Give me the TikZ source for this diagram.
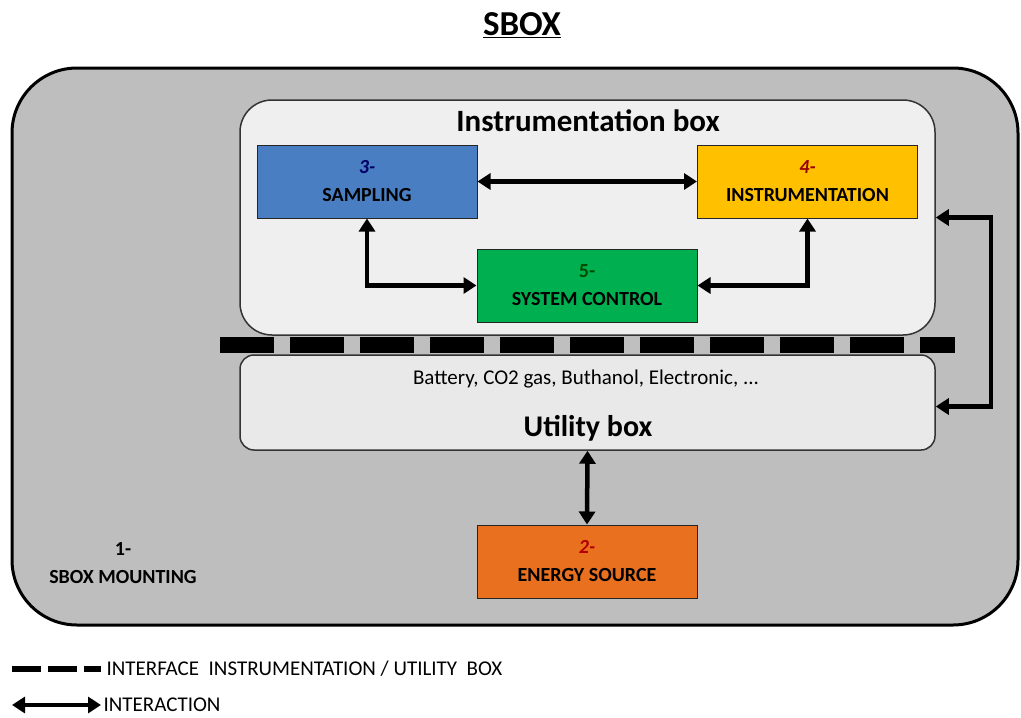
\documentclass[tikz,border=0pt]{standalone}
\usepackage{fontspec}
\setmainfont{Carlito}
\usetikzlibrary{positioning, arrows.meta}

\definecolor{mountgray}{HTML}{BEBEBE}
\definecolor{panelgray}{HTML}{EFEFEF}
\definecolor{utilgray}{HTML}{E9E9E9}
\definecolor{sampblue}{HTML}{4A7EC2}
\definecolor{instyellow}{HTML}{FFC000}
\definecolor{ctrlgreen}{HTML}{00B050}
\definecolor{energyorange}{HTML}{E8701E}

\begin{document}
\begin{tikzpicture}[x=1pt, y=-1pt,
    unit/.style={draw=black!85, line width=1pt, minimum width=220pt, minimum height=73pt,
      align=center, font=\fontsize{20}{28}\selectfont\bfseries},
    panel/.style={draw=black!80, line width=1.5pt},
    link/.style={line width=4.5pt, {Triangle[length=13pt,width=16pt]}-{Triangle[length=13pt,width=16pt]}},
    legend/.style={anchor=west, font=\fontsize{21}{24}\selectfont}]
  \useasboundingbox (0,0) rectangle (1021,718);

  % title
  \node[font=\fontsize{35}{38}\selectfont\bfseries] (title) at (522,25) {\underline{SBOX}};

  % the mounting
  \node[draw=black, line width=3pt, fill=mountgray, rounded corners=65pt,
    minimum width=1006pt, minimum height=557pt] (mount) at (515,346.5) {};
  \node[align=center, font=\fontsize{20}{28}\selectfont\bfseries] (mountlbl) at (123,563)
    {1-\\SBOX MOUNTING};

  % instrumentation and utility boxes
  \node[panel, fill=panelgray, rounded corners=32pt, minimum width=695pt,
    minimum height=235pt] (ibox) at (587.5,217.5) {};
  \node[font=\fontsize{31}{34}\selectfont\bfseries] (ititle) at (588,121) {Instrumentation box};

  \node[panel, fill=utilgray, rounded corners=14pt, minimum width=695pt,
    minimum height=95pt] (ubox) at (587.5,402.5) {};
  \node[font=\fontsize{21}{24}\selectfont] (uitems) at (586,379)
    {Battery, CO2 gas, Buthanol, Electronic, ...};
  \node[font=\fontsize{30}{34}\selectfont\bfseries] (utitle) at (588,428) {Utility box};

  % interface between both boxes
  \draw[line width=16pt, black!25] (220,345) -- (955,345);
  \draw[line width=16pt, dash pattern=on 54pt off 16pt] (220,345) -- (955,345);

  % units
  \node[unit, fill=sampblue] (samp) at (367,181.5)
    {\textcolor{blue!40!black}{\itshape 3-}\\SAMPLING};
  \node[unit, fill=instyellow] (instr) at (807.5,181.5)
    {\textcolor{red!60!black}{\itshape 4-}\\INSTRUMENTATION};
  \node[unit, fill=ctrlgreen] (sysctl) at (587,285.5)
    {\textcolor{green!30!black}{5-}\\SYSTEM CONTROL};
  \node[unit, fill=energyorange] (energy) at (587,561.5)
    {\textcolor{red!70!black}{\itshape 2-}\\ENERGY SOURCE};

  % interactions
  \draw[link] (samp) -- (instr);
  \draw[link] (samp.south) |- (sysctl.west);
  \draw[link] (instr.south) |- (sysctl.east);
  \draw[link] (ibox.east) -- ++(55,0) |- ([yshift=-4pt]ubox.east);
  \draw[link] (ubox.south) -- (energy.north);

  % legend
  \coordinate (dashA) at (12,669);
  \coordinate (dashB) at (101,669);
  \draw[line width=6pt, dash pattern=on 29pt off 7pt] (dashA) -- (dashB);
  \node[legend] (dashlbl) at (103,669) {INTERFACE\ \ INSTRUMENTATION / UTILITY\ \ BOX};
  \coordinate (arrA) at (12,705);
  \coordinate (arrB) at (101,705);
  \draw[link, line width=4pt] (arrA) -- (arrB);
  \node[legend] (arrlbl) at (100,705) {INTERACTION};
\end{tikzpicture}
\end{document}
